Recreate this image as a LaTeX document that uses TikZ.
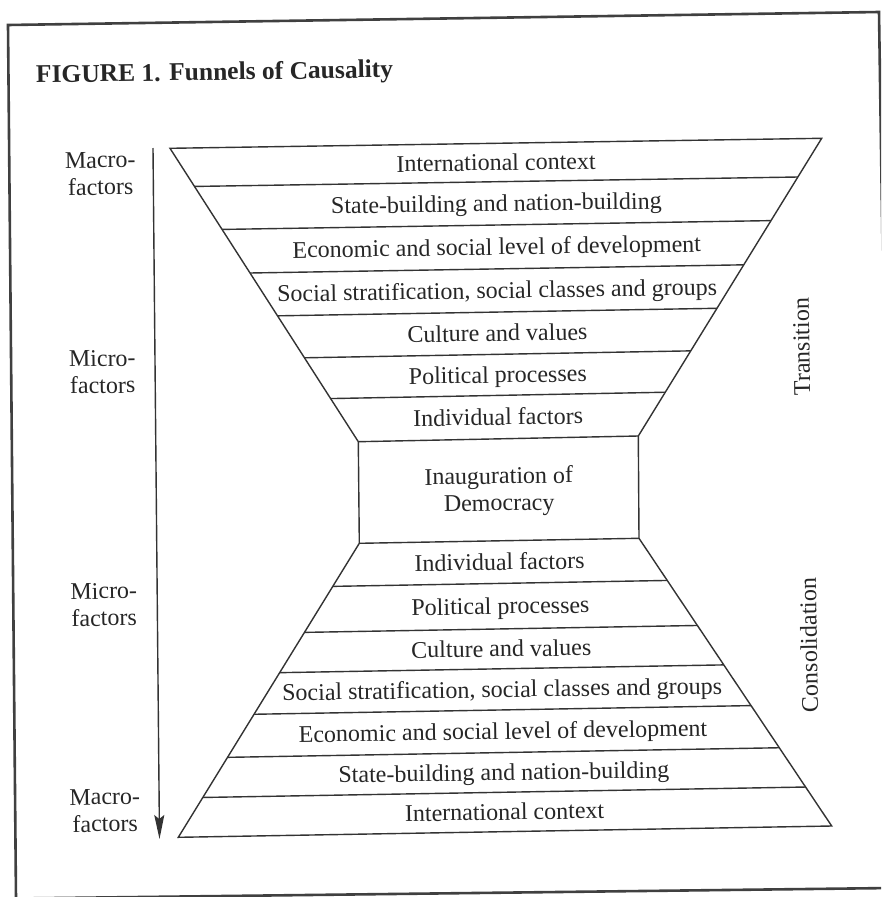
\documentclass[tikz,border=0pt]{standalone}
\usepackage{fontspec}
\setmainfont{Liberation Serif}
\usetikzlibrary{calc,arrows.meta}
\begin{document}
\begin{tikzpicture}[x=1pt,y=-1pt,
  ink/.style={draw=black!80, line width=1.4pt, line join=miter},
  frameline/.style={draw=black!75, line width=2.6pt},
  bandtext/.style={font=\fontsize{24}{27}\selectfont, text=black!85, rotate=0.9,
    text height=15.9pt, text depth=0pt, inner sep=0pt, anchor=center},
  sidetext/.style={font=\fontsize{24}{27}\selectfont, text=black!85, align=center,
    rotate=0.9, inner sep=0pt, anchor=center},
  phasetext/.style={font=\fontsize{24}{27}\selectfont, text=black!85, rotate=90.9,
    text height=15.9pt, text depth=0pt, inner sep=0pt, anchor=center},
  titletext/.style={font=\fontsize{25.5}{28}\selectfont\bfseries, text=black!85,
    rotate=0.9, inner sep=0pt, anchor=base west},
]
\useasboundingbox (0,0) rectangle (881,897);
\fill[white] (0,0) rectangle (881,897);
% frame
\begin{scope}
\clip (0,0) rectangle (881,897);
\coordinate (F1) at (8,25);
\coordinate (F2) at (879,12);
\coordinate (F3) at (892,888);
\coordinate (F4) at (16,898.5);
\draw[frameline] (F1) -- (F2) -- (F3) -- (F4) -- cycle;
\end{scope}
% title
\node[titletext] (title) at (36,83) {FIGURE 1. Funnels of Causality};
% funnel outline corners
\coordinate (tl0) at (170,148.3);
\coordinate (tr0) at (821.7,138.3);
\coordinate (tl7) at (358.3,441.7);
\coordinate (tr7) at (638.3,436);
\coordinate (bl0) at (359.3,543.3);
\coordinate (br0) at (639,538.3);
\coordinate (bl7) at (178.3,837.3);
\coordinate (br7) at (831.7,826);
% top funnel dividing lines
\foreach \t/\n in {0.13/1,0.2765/2,0.425/3,0.571/4,0.714/5,0.853/6}{
  \coordinate (tl\n) at ($(tl0)!\t!(tl7)$);
  \coordinate (tr\n) at ($(tr0)!\t!(tr7)$);
  \draw[ink] (tl\n) -- (tr\n);
}
% bottom funnel dividing lines
\foreach \t/\n in {0.1465/1,0.303/2,0.44/3,0.5815/4,0.728/5,0.8645/6}{
  \coordinate (bl\n) at ($(bl0)!\t!(bl7)$);
  \coordinate (br\n) at ($(br0)!\t!(br7)$);
  \draw[ink] (bl\n) -- (br\n);
}
% outline
\draw[ink] (tl0) -- (tr0) -- (tr7) -- (br0) -- (br7) -- (bl7) -- (bl0) -- (tl7) -- cycle;
\draw[ink] (tl7) -- (tr7);
\draw[ink] (bl0) -- (br0);
% midpoints of lines
\foreach \n in {0,...,7}{
  \coordinate (tm\n) at ($(tl\n)!0.5!(tr\n)$);
  \coordinate (bm\n) at ($(bl\n)!0.5!(br\n)$);
}
% top band labels
\foreach \a/\b/\txt in {0/1/International context,
                        1/2/State-building and nation-building,
                        2/3/Economic and social level of development,
                        3/4/{Social stratification, social classes and groups},
                        4/5/Culture and values,
                        5/6/Political processes,
                        6/7/Individual factors}{
  \node[bandtext] (t\a) at ($(tm\a)!0.5!(tm\b)$) {\txt};
}
% bottom band labels
\foreach \a/\b/\txt in {0/1/Individual factors,
                        1/2/Political processes,
                        2/3/Culture and values,
                        3/4/{Social stratification, social classes and groups},
                        4/5/Economic and social level of development,
                        5/6/State-building and nation-building,
                        6/7/International context}{
  \node[bandtext] (b\a) at ($(bm\a)!0.5!(bm\b)$) {\txt};
}
% central box text
\node[sidetext] (inaug) at (499,491.5) {Inauguration of\\Democracy};
% left labels
\node[sidetext] (macro1) at (100.5,173.6) {Macro-\\factors};
\node[sidetext] (micro1) at (102.5,372) {Micro-\\factors};
\node[sidetext] (micro2) at (104,604.5) {Micro-\\factors};
\node[sidetext] (macro2) at (105,810.5) {Macro-\\factors};
% arrow
\coordinate (ar1) at (153,148);
\coordinate (ar2) at (159.5,839);
\draw[draw=black!80, line width=1.4pt, -{Stealth[length=24pt,width=10pt,inset=4pt]}] (ar1) -- (ar2);
% phase labels
\node[phasetext] (trans) at (801.5,347) {Transition};
\node[phasetext] (consol) at (809,645) {Consolidation};
\end{tikzpicture}
\end{document}
